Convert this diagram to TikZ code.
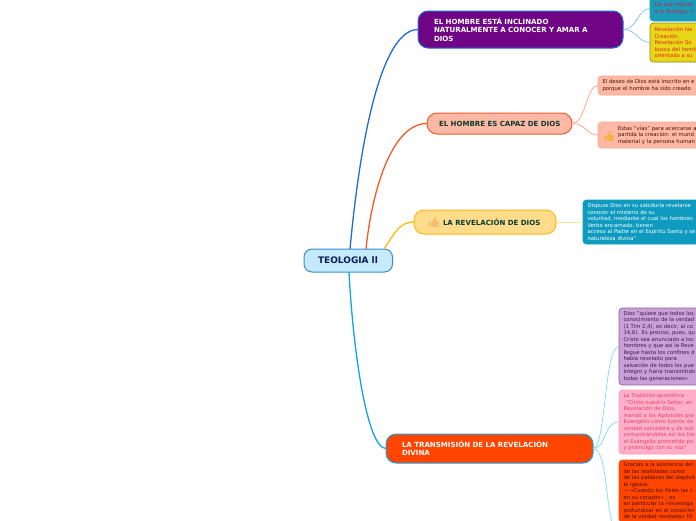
\documentclass[tikz,border=0pt]{standalone}
\usepackage{fontspec}
\setmainfont{DejaVu Sans}
\definecolor{rootF}{HTML}{C5EAFD}\definecolor{rootB}{HTML}{3A8FD0}\definecolor{rootT}{HTML}{0A1F55}
\definecolor{purF}{HTML}{6F0585}\definecolor{purB}{HTML}{1F6CD8}
\definecolor{salF}{HTML}{FDB9A5}\definecolor{salB}{HTML}{F45A28}\definecolor{salL}{HTML}{FDA78E}
\definecolor{yelF}{HTML}{FEDC8C}\definecolor{yelB}{HTML}{FDB913}\definecolor{yelL}{HTML}{FDE39A}
\definecolor{traF}{HTML}{FF4500}\definecolor{traB}{HTML}{0EA5E9}\definecolor{traL}{HTML}{8ADCFB}
\definecolor{grn}{HTML}{0C3B2E}\definecolor{bluL}{HTML}{8CC4F0}
\definecolor{tealF}{HTML}{1A9CB8}\definecolor{tealT}{HTML}{C8204E}
\definecolor{ylwF}{HTML}{E6D818}\definecolor{ylwB}{HTML}{8A8A20}\definecolor{ylwT}{HTML}{E8241A}
\definecolor{sigF}{HTML}{0F9BC0}
\definecolor{lilF}{HTML}{C9A0D8}\definecolor{lilB}{HTML}{9060A8}\definecolor{lilT}{HTML}{3A1A50}
\definecolor{pinF}{HTML}{FFB0C8}\definecolor{pinB}{HTML}{FF9AB8}\definecolor{pinT}{HTML}{E83E70}
\definecolor{oraB}{HTML}{E05010}\definecolor{oraT}{HTML}{4A1000}
\definecolor{thA}{HTML}{F3BE6E}\definecolor{thB}{HTML}{F6B14A}
\tikzset{
  box/.style={draw,anchor=north west,align=left,outer sep=0pt,inner ysep=0pt},
  title/.style={box,rounded corners=10pt,line width=1pt,inner xsep=0pt,font=\fontsize{7.05}{8.4}\selectfont\bfseries},
  leaf/.style={box,rounded corners=3.5pt,line width=0.7pt,inner xsep=4.5pt,font=\fontsize{5.3}{6.5}\selectfont},
  trunk/.style={line width=1.3pt},
  twig/.style={line width=0.8pt},
  thumb/.pic={\fill[rounded corners=0.7pt] (-5,0) rectangle (-3.1,5) (-2.4,0) -- (0.2,-2.5) -- (0.8,-5.5) .. controls (2,-5.5) and (2.5,-4) .. (1.8,-1) -- (4.6,-1) -- (5.2,0.5) -- (4.4,5) -- (-2.4,5) -- cycle;}
}
\begin{document}
\begin{tikzpicture}[x=1pt,y=-1pt]
\useasboundingbox (0,0) rectangle (696,520);
\clip (0,0) rectangle (696,520);
\fill[white] (0,0) rectangle (696,520);
% main nodes
\node[title,fill=rootF,draw=rootB,text=rootT,minimum height=23pt,text width=88.5pt,font=\fontsize{9}{10}\selectfont\bfseries,rounded corners=8pt] (root) at (304,249) {\hspace*{14pt}TEOLOGIA ll};
\node[title,fill=purF,draw=purB,text=white,minimum height=37pt,text width=205pt] (hombre) at (418,11) {\hspace*{16pt}EL HOMBRE ESTÁ INCLINADO\\\hspace*{16pt}NATURALMENTE A CONOCER Y AMAR A\\\hspace*{16pt}DIOS};
\node[title,fill=salF,draw=salB,text=grn,minimum height=21pt,text width=145pt] (capaz) at (427,113) {\hspace*{12pt}EL HOMBRE ES CAPAZ DE DIOS};
\node[title,fill=yelF,draw=yelB,text=grn,minimum height=24pt,text width=142pt] (revel) at (414,210) {\hspace*{29pt}LA REVELACIÓN DE DIOS};
\node[title,fill=traF,draw=traB,text=white,minimum height=29pt,text width=207pt] (trans) at (386,434) {\hspace*{16pt}LA TRANSMISIÓN DE LA REVELACIÓN\\\hspace*{16pt}DIVINA};
% leaves
\node[leaf,fill=tealF,draw=tealF,text=tealT,minimum height=25pt,text width=120pt] (inq) at (650,-4) {De esa inquiet\\a la Teología =};
\node[leaf,fill=ylwF,draw=ylwB,text=ylwT,minimum height=39pt,text width=120pt] (nat) at (650,23) {Revelación Na\\Creación.\\Revelación So\\busca del homb\\orientado a su};
\node[leaf,fill=salF,draw=salL,text=oraT,minimum height=19pt,text width=120pt] (deseo) at (598,76) {El deseo de Dios está inscrito en e\\porque el hombre ha sido creado};
\node[leaf,fill=salF,draw=salL,text=oraT,minimum height=26pt,text width=120pt,inner xsep=0pt] (vias) at (598,122) {\hspace*{20pt}Estas "vías" para acercarse a\\\hspace*{20pt}partida la creación: el mund\\\hspace*{20pt}material y la persona human};
\node[leaf,fill=sigF,draw=sigF,text=white,minimum height=44pt,text width=130pt] (dispuso) at (583,200) {Dispuso Dios en su sabiduría revelarse\\conocer el misterio de su\\voluntad, mediante el cual los hombres\\Verbo encarnado, tienen\\acceso al Padre en el Espíritu Santo y se\\naturaleza divina"};
\node[leaf,fill=lilF,draw=lilB,text=lilT,minimum height=77pt,text width=120pt] (quiere) at (619,308) {Dios "quiere que todos los\\conocimiento de la verdad\\(1 Tim 2,4), es decir, al co\\14,6). Es preciso, pues, qu\\Cristo sea anunciado a toc\\hombres y que así la Reve\\llegue hasta los confines d\\había revelado para\\salvación de todos los pue\\íntegro y fuera transmitido\\todas las generaciones»};
\node[leaf,fill=pinF,draw=pinB,text=pinT,minimum height=64pt,text width=120pt] (tradi) at (619,390) {La Tradición apostólica\\\hspace*{2pt}"Cristo nuestro Señor, en\\Revelación de Dios,\\mandó a los Apóstoles pre\\Evangelio como fuente de\\verdad salvadora y de tod\\comunicándoles así los bie\\el Evangelio prometido po\\y promulgó con su voz"};
\node[leaf,fill=traF,draw=oraB,text=oraT,minimum height=62pt,text width=120pt] (gracias) at (619,460) {Gracias a la asistencia del\\de las realidades como\\de las palabras del depósit\\la Iglesia:\\— «Cuando los fieles las c\\en su corazón» ; es\\en particular la «investiga\\profundizar en el conocimi\\de la verdad revelada» (G};
% trunk connectors
\draw[trunk,draw=purB] ([xshift=46pt]root.north west) .. controls +(12,-129) and +(-33,0) .. (hombre.west);
\draw[trunk,draw=salB] ([xshift=62pt]root.north west) .. controls +(6,-59) and +(-35,0) .. (capaz.west);
\draw[trunk,draw=yelB] ([xshift=80pt]root.north west) .. controls +(11,-17) and +(-14,0) .. (revel.west);
\draw[trunk,draw=traB] ([xshift=45pt]root.south west) .. controls +(4,78) and +(-19,0) .. (trans.west);
% twigs
\draw[twig,draw=bluL] (hombre.east) .. controls +(14,0) and +(-12,0) .. (inq.west);
\draw[twig,draw=bluL] (hombre.east) .. controls +(14,0) and +(-12,0) .. (nat.west);
\draw[twig,draw=salL] (capaz.east) .. controls +(14,0) and +(-12,0) .. (deseo.west);
\draw[twig,draw=salL] (capaz.east) .. controls +(14,0) and +(-12,0) .. (vias.west);
\draw[twig,draw=yelL] (revel.east) -- (dispuso.west);
\draw[twig,draw=traL] (trans.east) .. controls +(13,0) and +(-15,0) .. (quiere.west);
\draw[twig,draw=traL] (trans.east) .. controls +(14,0) and +(-16,0) .. (tradi.west);
\draw[twig,draw=traL] (trans.east) .. controls +(17,0) and +(-15,0) .. ([yshift=-9pt]gracias.south west);
% icons
\pic[fill=thA] at (434,222) {thumb};
\pic[fill=thB] at (609,136) {thumb};
\end{tikzpicture}
\end{document}
